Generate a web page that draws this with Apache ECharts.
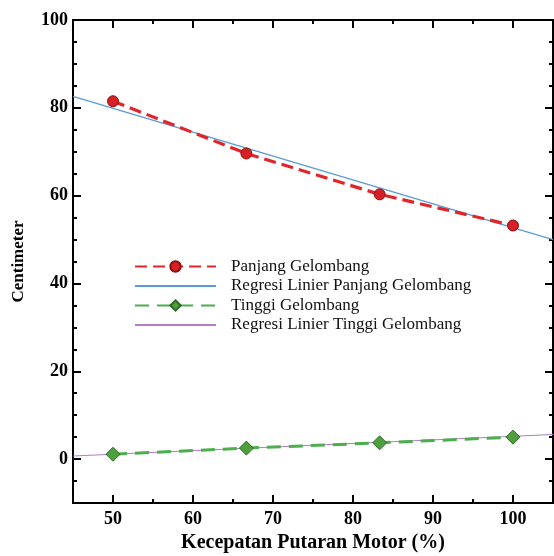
<!DOCTYPE html>
<html>
<head>
<meta charset="utf-8">
<script src="https://cdn.jsdelivr.net/npm/echarts@6/dist/echarts.min.js"></script>
<style>html,body{margin:0;padding:0;background:#fff}#c{width:554px;height:556px}</style>
</head>
<body>
<div id="c"></div>
<script>
// ---- data ----
const speedPct = [50, 66.67, 83.33, 100];
const panjangGelombang = [81.5, 69.6, 60.3, 53.2];
const tinggiGelombang = [1.1, 2.5, 3.7, 5.0];
const regX = [45, 105];
const regPanjang = [82.6, 50.0];
const regTinggi = [0.7, 5.6];
const seriesNames = ['Panjang Gelombang', 'Regresi Linier Panjang Gelombang', 'Tinggi Gelombang', 'Regresi Linier Tinggi Gelombang'];
const xRange = [45, 105];
const yRange = [-10, 100];
const xMajorTicks = [50, 60, 70, 80, 90, 100];
const xMinorTicks = [55, 65, 75, 85, 95];
const yMajorTicks = [0, 20, 40, 60, 80, 100];
const yMinorTicks = [-5, 5, 10, 15, 25, 30, 35, 45, 50, 55, 65, 70, 75, 85, 90, 95];
const xTitle = 'Kecepatan Putaran Motor (%)';
const yTitle = 'Centimeter';

const FONT = "'Liberation Serif', 'Times New Roman', serif";
const pairs = (xs, ys) => xs.map((x, i) => [x, ys[i]]);

function axis(kind, pos, ticks, len, withLabels, name) {
  const isX = kind === 'x';
  const range = isX ? xRange : yRange;
  return {
    type: 'value', position: pos, min: range[0], max: range[1], interval: 5,
    name: name || '', nameLocation: 'middle', nameGap: isX ? 30 : 46,
    nameTextStyle: {fontFamily: FONT, fontWeight: 'bold', fontSize: isX ? 20 : 17, color: '#000'},
    axisLine: {show: true, onZero: false, lineStyle: {color: '#000', width: 2}},
    axisTick: {show: true, inside: true, length: len, customValues: ticks,
      lineStyle: {color: '#000', width: 2}},
    axisLabel: {show: withLabels, customValues: ticks, margin: isX ? 7 : 5,
      fontFamily: FONT, fontWeight: 'bold', fontSize: 18, color: '#000'},
    splitLine: {show: false}
  };
}

const chart = echarts.init(document.getElementById('c'), null, {renderer: 'canvas'});
chart.setOption({
  animation: false,
  backgroundColor: '#fff',
  grid: {left: 73, right: 1, top: 20, bottom: 53, containLabel: false, outerBoundsMode: 'none'},
  xAxis: [
    axis('x', 'bottom', xMajorTicks, 8, true, xTitle),
    axis('x', 'bottom', xMinorTicks, 4, false),
    axis('x', 'top', xMajorTicks, 8, false),
    axis('x', 'top', xMinorTicks, 4, false)
  ],
  yAxis: [
    axis('y', 'left', yMajorTicks, 8, true, yTitle),
    axis('y', 'left', yMinorTicks, 4, false),
    axis('y', 'right', yMajorTicks, 8, false),
    axis('y', 'right', yMinorTicks, 4, false)
  ],
  legend: {
    show: true, orient: 'vertical', left: 129, top: 253,
    itemWidth: 81, itemHeight: 13, itemGap: 2.5,
    data: seriesNames,
    textStyle: {fontFamily: FONT, fontSize: 17, color: '#111', padding: [0, 0, 0, 10]}
  },
  series: [
    {
      name: seriesNames[1], type: 'line', data: pairs(regX, regPanjang), z: 2,
      showSymbol: false, symbol: 'circle',
      lineStyle: {color: '#5b9bd5', width: 1.3},
      itemStyle: {color: 'rgba(0,0,0,0)', borderWidth: 0}
    },
    {
      name: seriesNames[0], type: 'line', data: pairs(speedPct, panjangGelombang), z: 3,
      symbol: 'circle', symbolSize: 11,
      lineStyle: {color: '#e0262a', width: 3.2, type: [12, 6]},
      itemStyle: {color: '#d71f26', borderColor: '#8a1010', borderWidth: 1}
    },
    {
      name: seriesNames[3], type: 'line', data: pairs(regX, regTinggi), z: 2,
      showSymbol: false, symbol: 'circle',
      lineStyle: {color: '#b07cc6', width: 1.2},
      itemStyle: {color: 'rgba(0,0,0,0)', borderWidth: 0}
    },
    {
      name: seriesNames[2], type: 'line', data: pairs(speedPct, tinggiGelombang), z: 3,
      symbol: 'diamond', symbolSize: 14,
      lineStyle: {color: '#4cae4c', width: 3, type: [14, 8]},
      itemStyle: {color: '#4f9f3f', borderColor: '#2d6a25', borderWidth: 1}
    }
  ]
});
</script>
</body>
</html>
